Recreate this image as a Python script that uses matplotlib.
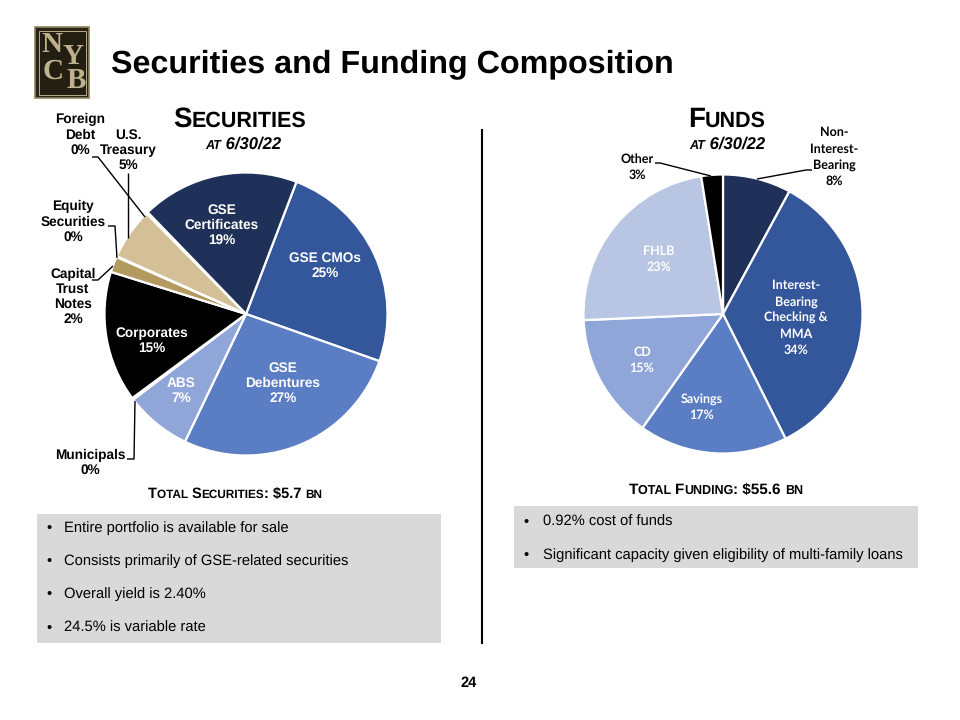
import matplotlib
matplotlib.use("Agg")
import matplotlib.pyplot as plt
from matplotlib.patches import Rectangle

plt.rcParams["text.hinting"] = "no_hinting"

W, H = 960, 720
SANS = "Liberation Sans"
CAL = "Lato"

sec_labels = ["GSE CMOs", "GSE Debentures", "ABS", "Municipals", "Corporates",
              "Capital Trust Notes", "Equity Securities", "U.S. Treasury", "Foreign Debt", "GSE Certificates"]
sec_values = [24.7, 26.8, 7.6, 0.2, 15.0, 1.8, 0.1, 5.9, 0.2, 18.1]
sec_colors = ["#34569A", "#5B7DC4", "#90A6D8", "#FFFFFF", "#000000",
              "#B39A5E", "#E6DBC2", "#D4C096", "#000000", "#1F3159"]
fund_labels = ["Non-Interest-Bearing", "Interest-Bearing Checking & MMA", "Savings", "CD", "FHLB", "Other"]
fund_values = [7.9, 34.7, 17.2, 14.5, 23.2, 2.5]
fund_colors = ["#1F3159", "#34569A", "#5B7DC4", "#90A6D8", "#B8C6E4", "#000000"]
bullets_left = ["Entire portfolio is available for sale", "Consists primarily of GSE-related securities",
                "Overall yield is 2.40%", "24.5% is variable rate"]
bullets_right = ["0.92% cost of funds", "Significant capacity given eligibility of multi-family loans"]

fig = plt.figure(figsize=(W / 100, H / 100), dpi=100, facecolor="white")
bg = fig.add_axes([0, 0, 1, 1], zorder=0)
bg.set_xlim(0, W); bg.set_ylim(H, 0); bg.axis("off")
top = fig.add_axes([0, 0, 1, 1], zorder=5)
top.set_xlim(0, W); top.set_ylim(H, 0); top.axis("off"); top.patch.set_alpha(0)


def pie_axes(cx, cy, r):
    return fig.add_axes([(cx - r) / W, 1 - (cy + r) / H, 2 * r / W, 2 * r / H], zorder=2)


ax1 = pie_axes(246, 314, 141.5)
ax1.pie(sec_values, colors=sec_colors, startangle=69.1, counterclock=False, radius=1,
        wedgeprops=dict(edgecolor="white", linewidth=1.6))
ax1.set_xlim(-1, 1); ax1.set_ylim(-1, 1)
ax2 = pie_axes(723, 314, 139.5)
ax2.pie(fund_values, colors=fund_colors, startangle=90, counterclock=False, radius=1,
        wedgeprops=dict(edgecolor="white", linewidth=1.6))
ax2.set_xlim(-1, 1); ax2.set_ylim(-1, 1)


def txt(x, y, s, size=10, color="black", family=SANS, weight="bold", ha="center", va="center", style="normal", ls=1.2):
    return top.text(x, y, s, fontsize=size, color=color, family=family, weight=weight, ha=ha, va=va,
                    style=style, linespacing=ls)


def runs(xc, y, parts):
    """Centre a run of (text, size, style) on xc with a shared baseline."""
    r = fig.canvas.get_renderer()
    arts, total = [], 0
    for s, size, style in parts:
        t = top.text(0, y, s, fontsize=size, family=SANS, weight="bold", style=style, ha="left", va="baseline")
        w = t.get_window_extent(r).width
        arts.append((t, w)); total += w
    x = xc - total / 2
    for t, w in arts:
        t.set_x(x); x += w


def lead(xs, ys, lw=1.0):
    top.plot(xs, ys, color="black", lw=lw, solid_capstyle="butt")


# Header
bg.add_patch(Rectangle((35, 27), 54, 71, fc="#2A2416", ec="#8F8560", lw=1.2))
bg.add_patch(Rectangle((38.5, 30.5), 47, 64, fc="#231E12", ec="#B8AD88", lw=0.7))
logo = dict(family="Liberation Serif", weight="bold", color="#BDB28C", size=21)
bg.text(52, 45, "N", ha="center", va="center", **logo)
bg.text(73, 57, "Y", ha="center", va="center", **logo)
bg.text(53, 72, "C", ha="center", va="center", **logo)
bg.text(76, 82, "B", ha="center", va="center", **logo)
txt(111, 64, "Securities and Funding Composition", size=23.2, ha="left")

# Panel headings
runs(240, 127, [("S", 20, "normal"), ("ECURITIES", 15.5, "normal")])
runs(243, 149, [("AT", 9, "italic"), (" 6/30/22", 12, "italic")])
runs(727, 127, [("F", 20, "normal"), ("UNDS", 15.5, "normal")])
runs(727, 149, [("AT", 9, "italic"), (" 6/30/22", 12, "italic")])
runs(235, 498, [("T", 10.5, "normal"), ("OTAL ", 8.5, "normal"), ("S", 10.5, "normal"), ("ECURITIES", 8.5, "normal"),
                (": $5.7 ", 10.5, "normal"), ("BN", 8.5, "normal")])
runs(716, 494, [("T", 11, "normal"), ("OTAL ", 9, "normal"), ("F", 11, "normal"), ("UNDING", 9, "normal"),
                (": $55.6 ", 11, "normal"), ("BN", 9, "normal")])

# Securities labels
WS = 9.8
txt(222, 225, "GSE\nCertificates\n19%", WS, "white")
txt(325, 266, "GSE CMOs\n25%", WS, "white")
txt(283, 383, "GSE\nDebentures\n27%", WS, "white")
txt(181, 391, "ABS\n7%", WS, "white")
txt(152, 341, "Corporates\n15%", WS, "white")
txt(80, 135, "Foreign\nDebt\n0%", WS)
txt(128, 150, "U.S.\nTreasury\n5%", WS)
txt(73, 222, "Equity\nSecurities\n0%", WS)
txt(73, 297, "Capital\nTrust\nNotes\n2%", WS)
txt(90, 463, "Municipals\n0%", WS)
lead([92, 98, 145], [157, 157, 217])
lead([128, 128], [173, 238])
lead([108, 115, 117], [226, 226, 258])
lead([92, 98, 113], [280, 280, 266])
lead([127, 134, 135], [459, 459, 401])

# Funding labels
FS = 9.0
CL = 1.45
txt(796, 318, "Interest-\nBearing\nChecking &\nMMA\n34%", FS, "white", CAL, ls=CL)
txt(702, 407, "Savings\n17%", FS, "white", CAL, ls=CL)
txt(642, 360, "CD\n15%", FS, "white", CAL, ls=CL)
txt(659, 259, "FHLB\n23%", FS, "white", CAL, ls=CL)
txt(637, 167, "Other\n3%", FS, family=CAL, ls=CL)
txt(834, 157, "Non-\nInterest-\nBearing\n8%", FS, family=CAL, ls=CL)
lead([655, 660, 711], [163, 163, 176])
lead([812, 806, 757], [170, 170, 179])

# Text panels
bg.add_patch(Rectangle((37, 514), 404, 129, fc="#D9D9D9", ec="none"))
bg.add_patch(Rectangle((514, 506), 404, 62, fc="#D9D9D9", ec="none"))
for y, s in zip([528, 561, 594, 628], bullets_left):
    txt(46, y, "•", 10.6, weight="normal", ha="left")
    txt(64, y, s, 10.6, weight="normal", ha="left")
for y, s in zip([522, 555], bullets_right):
    txt(523, y, "•", 10.6, weight="normal", ha="left")
    txt(543, y, s, 10.6, weight="normal", ha="left")

top.plot([482, 482], [130, 643], color="black", lw=1.5)
txt(469, 683, "24", 10.5)

fig.savefig("out.png", dpi=100, facecolor="white")
